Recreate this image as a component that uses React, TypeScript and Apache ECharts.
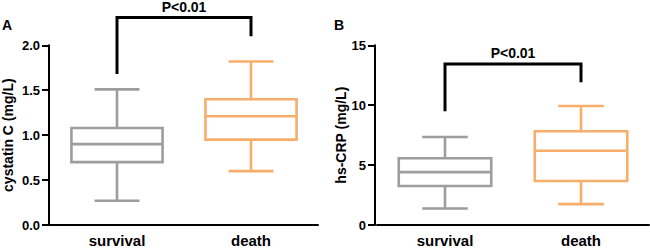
import React, { useEffect, useRef } from "react";
import * as echarts from "echarts";

const categories = ["survival", "death"];
// [min, Q1, median, Q3, max]
const cystatinBoxes = [
  [0.27, 0.7, 0.9, 1.08, 1.51],
  [0.6, 0.95, 1.21, 1.4, 1.82],
];
const crpBoxes = [
  [1.38, 3.26, 4.41, 5.57, 7.34],
  [1.74, 3.67, 6.2, 7.83, 9.93],
];
// [leftEnd, top, rightEnd, textLevel]
const cystatinBracket = [1.68, 2.31, 2.1, 2.43];
const crpBracket = [9.49, 13.43, 11.91, 14.34];
const pLabel = "P<0.01";
const yTicksA = { min: 0, max: 2, interval: 0.5 };
const yTicksB = { min: 0, max: 15, interval: 5 };
const panelLabels = ["A", "B"];
const yNames = ["cystatin C (mg/L)", "hs-CRP (mg/L)"];

const COLORS = ["#9d9d9d", "#f7ae6b"];
const FONT = "Liberation Sans, Arial, sans-serif";

function boxRender(params: any, api: any) {
  const idx = api.value(0);
  const mn = api.value(1), q1 = api.value(2), md = api.value(3), q3 = api.value(4), mx = api.value(5);
  const band = api.size([1, 0])[0];
  const bw = band * 0.68;
  const cw = band * 0.335;
  const [cx, yMin] = api.coord([idx, mn]);
  const yQ1 = api.coord([idx, q1])[1];
  const yMd = api.coord([idx, md])[1];
  const yQ3 = api.coord([idx, q3])[1];
  const yMax = api.coord([idx, mx])[1];
  const color = COLORS[idx];
  const st = { stroke: color, lineWidth: 2.6, fill: "none" };
  return {
    type: "group",
    children: [
      { type: "rect", shape: { x: cx - bw / 2, y: yQ3, width: bw, height: yQ1 - yQ3 }, style: st },
      { type: "line", shape: { x1: cx - bw / 2, y1: yMd, x2: cx + bw / 2, y2: yMd }, style: st },
      { type: "line", shape: { x1: cx, y1: yQ1, x2: cx, y2: yMin }, style: st },
      { type: "line", shape: { x1: cx, y1: yQ3, x2: cx, y2: yMax }, style: st },
      { type: "line", shape: { x1: cx - cw / 2, y1: yMin, x2: cx + cw / 2, y2: yMin }, style: st },
      { type: "line", shape: { x1: cx - cw / 2, y1: yMax, x2: cx + cw / 2, y2: yMax }, style: st },
    ],
  };
}

function bracketRender(params: any, api: any) {
  const l = api.value(0), t = api.value(1), r = api.value(2), tl = api.value(3);
  const p1 = api.coord([0, l]);
  const p2 = api.coord([0, t]);
  const p3 = api.coord([1, t]);
  const p4 = api.coord([1, r]);
  const pt = api.coord([0, tl]);
  return {
    type: "group",
    children: [
      {
        type: "polyline",
        shape: { points: [p1, p2, p3, p4] },
        style: { stroke: "#000", lineWidth: 3, fill: "none" },
      },
      {
        type: "text",
        x: (p2[0] + p3[0]) / 2,
        y: pt[1],
        style: {
          text: pLabel,
          fill: "#000",
          font: `bold 14px ${FONT}`,
          align: "center",
          verticalAlign: "middle",
        },
      },
    ],
  };
}

function makeXAxis(gridIndex: number) {
  return {
    type: "category",
    gridIndex,
    data: categories,
    boundaryGap: true,
    axisLine: { lineStyle: { color: "#000", width: 2 } },
    axisTick: { alignWithLabel: true, length: 5, lineStyle: { color: "#000", width: 2 } },
    axisLabel: { color: "#000", fontSize: 15, fontWeight: "bold", fontFamily: FONT, margin: 8 },
  };
}

function makeYAxis(gridIndex: number, t: any, name: string, offset: number, nameGap: number, dec: number) {
  return {
    type: "value",
    gridIndex,
    min: t.min,
    max: t.max,
    interval: t.interval,
    offset,
    name,
    nameLocation: "middle",
    nameGap,
    nameTextStyle: { color: "#000", fontSize: 14, fontWeight: "bold", fontFamily: FONT },
    splitLine: { show: false },
    axisLine: { show: true, lineStyle: { color: "#000", width: 2 } },
    axisTick: { show: true, length: 7, lineStyle: { color: "#000", width: 2 } },
    axisLabel: {
      color: "#000",
      fontSize: 13,
      fontWeight: "bold",
      fontFamily: FONT,
      margin: 9,
      formatter: (v: number) => v.toFixed(dec),
    },
  };
}

export default function App() {
  const ref = useRef<HTMLDivElement>(null);
  useEffect(() => {
    if (!ref.current) return;
    const chart = echarts.init(ref.current, null, { renderer: "svg" });
    chart.setOption({
      animation: false,
      backgroundColor: "#fff",
      grid: [
        { left: 49, width: 269, top: 45.3, height: 182.4 },
        { left: 377, width: 272, top: 45.3, height: 181.4 },
      ],
      xAxis: [makeXAxis(0), makeXAxis(1)],
      yAxis: [
        makeYAxis(0, yTicksA, yNames[0], 1, 34, 1),
        makeYAxis(1, yTicksB, yNames[1], 2, 27, 0),
      ],
      graphic: [
        { type: "text", x: 2, y: 18, style: { text: panelLabels[0], font: `bold 14px ${FONT}`, fill: "#000" } },
        { type: "text", x: 334, y: 18, style: { text: panelLabels[1], font: `bold 14px ${FONT}`, fill: "#000" } },
      ],
      series: [
        {
          type: "custom",
          xAxisIndex: 0,
          yAxisIndex: 0,
          renderItem: boxRender,
          clip: false,
          data: cystatinBoxes.map((b, i) => [i, ...b]),
        },
        {
          type: "custom",
          xAxisIndex: 1,
          yAxisIndex: 1,
          renderItem: boxRender,
          clip: false,
          data: crpBoxes.map((b, i) => [i, ...b]),
        },
        {
          type: "custom",
          xAxisIndex: 0,
          yAxisIndex: 0,
          renderItem: bracketRender,
          clip: false,
          data: [cystatinBracket],
        },
        {
          type: "custom",
          xAxisIndex: 1,
          yAxisIndex: 1,
          renderItem: bracketRender,
          clip: false,
          data: [crpBracket],
        },
      ],
    });
    return () => chart.dispose();
  }, []);
  return <div ref={ref} style={{ width: 650, height: 248, position: "absolute", left: 0, top: 0 }} />;
}
